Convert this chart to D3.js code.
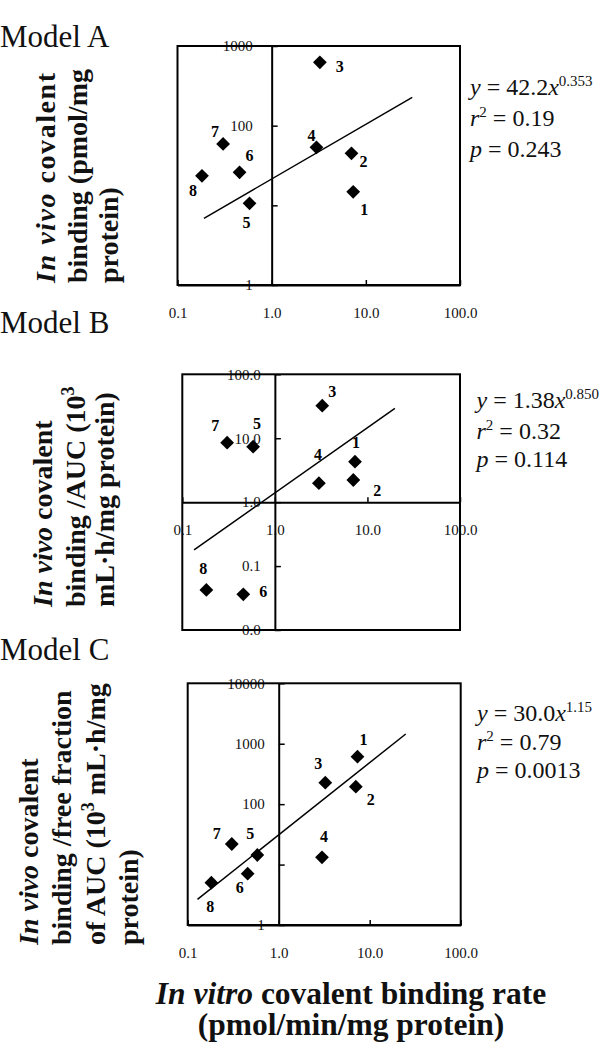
<!DOCTYPE html>
<html><head><meta charset="utf-8">
<script src="https://cdn.jsdelivr.net/npm/d3@7"></script>
<style>html,body{margin:0;padding:0;background:#fff;}</style>
</head><body><div id="chart"></div>
<script>
// ---------- data ----------
const compounds   = ["1","2","3","4","5","6","7","8"];
const inVitroRate = [7.34, 7.04, 3.25, 2.99, 0.582, 0.456, 0.305, 0.182];
const modelA = [14.8, 45.0, 624, 53.5, 10.6, 26.0, 58.9, 23.5];
const modelB = [4.30, 2.22, 32.3, 1.98, 7.38, 0.0362, 8.53, 0.0423];
const modelC = [610, 195, 227, 13.2, 14.4, 7.06, 21.9, 5.01];

const trendAx = [0.191, 31.1], trendAy = [6.87, 227];
const trendBx = [0.134, 19.8], trendBy = [0.179, 29.4];
const trendCx = [0.128, 24.9], trendCy = [2.66, 1449];

const xTickValues = [0.1, 1, 10, 100];
const xTickLabels = ["0.1", "1.0", "10.0", "100.0"];
const yTicksA = [1, 10, 100, 1000],  yTickLabelsA = ["1", "", "100", "1000"];
const yTicksB = [0.01, 0.1, 1, 10, 100], yTickLabelsB = ["0.0", "0.1", "1.0", "10.0", "100.0"];
const yTicksC = [1, 10, 100, 1000, 10000], yTickLabelsC = ["1", "", "100", "1000", "10000"];

const modelNames = ["Model A", "Model B", "Model C"];
const eqCoef = ["42.2", "1.38", "30.0"];
const eqExp  = ["0.353", "0.850", "1.15"];
const eqR2   = ["0.19", "0.32", "0.79"];
const eqP    = ["0.243", "0.114", "0.0013"];

const yTitleA = [[["In vivo", true], [" covalent"]], [["binding (pmol/mg"]], [["protein)"]]];
const yTitleB = [[["In vivo", true], [" covalent"]], [["binding /AUC (10"], ["3", false, true]], [["mL·h/mg protein)"]]];
const yTitleC = [[["In vivo", true], [" covalent"]], [["binding /free fraction"]], [["of AUC (10"], ["3", false, true], [" mL·h/mg"]], [["protein)"]]];
const xTitle  = [[["In vitro", true], [" covalent binding rate"]], [["(pmol/min/mg protein)"]]];

// ---------- layout ----------
const W = 607, H = 1050;
const FONT = "'Liberation Serif','Times New Roman',serif";
const panels = [
  {name: modelNames[0], values: modelA, tx: trendAx, ty: trendAy, yTicks: yTicksA, yLabels: yTickLabelsA,
   yDomain: [1, 1000], left: 177.5, right: 460, top: 46, bottom: 285, ylPad: 19, titleY: 47,
   eqX: 470, eqY: [95, 126, 157], yTitle: yTitleA, yTitleX: [55, 87, 118], yTitleStart: 283,
   yTitleLen: [210, null, null],
   lab: [[11,18],[12,8],[20,4],[-5,-12],[-3,19],[10,-17],[-8,-13],[-9,15]]},
  {name: modelNames[1], values: modelB, tx: trendBx, ty: trendBy, yTicks: yTicksB, yLabels: yTickLabelsB,
   yDomain: [0.01, 100], left: 182.3, right: 460, top: 374.3, bottom: 630, ylPad: 14, titleY: 333,
   eqX: 476.5, eqY: [408, 438.5, 467], yTitle: yTitleB, yTitleX: [52, 85, 114], yTitleStart: 607,
   yTitleLen: [null, null, null],
   lab: [[1,-19],[24,10],[10,-14],[-1,-29],[4,-23],[20,-3],[-12,-17],[-3,-22]]},
  {name: modelNames[2], values: modelC, tx: trendCx, ty: trendCy, yTicks: yTicksC, yLabels: yTickLabelsC,
   yDomain: [1, 10000], left: 187.7, right: 460.7, top: 683.3, bottom: 925, ylPad: 14, titleY: 660,
   eqX: 477, eqY: [721, 749.5, 778], yTitle: yTitleC, yTitleX: [38, 71, 105, 138], yTitleStart: 945,
   yTitleLen: [null, null, null, null],
   lab: [[6,-17],[15,13],[-7,-19],[2,-21],[-7,-22],[-8,14],[-15,-11],[-1,24]]}
];

const svg = d3.select("#chart").append("svg")
  .attr("width", W).attr("height", H)
  .style("font-family", FONT).style("background", "#fff");

function addRich(textSel, segs, supSize, supShift) {
  let pending = 0;
  segs.forEach(s => {
    const t = textSel.append("tspan").text(s[0]);
    if (s[1]) t.style("font-style", "italic");
    if (s[2]) {
      t.attr("font-size", supSize).attr("dy", -supShift);
      pending = supShift;
    } else if (pending) {
      t.attr("dy", pending);
      pending = 0;
    }
  });
}

panels.forEach((p, pi) => {
  const x = d3.scaleLog().domain([0.1, 100]).range([p.left, p.right]);
  const y = d3.scaleLog().domain(p.yDomain).range([p.bottom, p.top]);
  const ax = x(1), ay = y(1);
  const g = svg.append("g");

  // panel title
  g.append("text").attr("x", 0).attr("y", p.titleY).attr("font-size", 31).attr("fill", "#111").text(p.name);

  // y tick labels
  const yl = g.append("g").attr("transform", `translate(${ax},0)`)
    .call(d3.axisLeft(y).tickValues(p.yTicks).tickSize(0).tickPadding(p.ylPad)
      .tickFormat((d, i) => p.yLabels[i]));
  yl.select(".domain").remove();
  yl.selectAll("text").attr("font-family", FONT).attr("font-size", 15).attr("fill", "#111");

  // x tick labels
  const xl = g.append("g").attr("transform", `translate(0,${ay})`)
    .call(d3.axisBottom(x).tickValues(xTickValues).tickSize(0).tickPadding(22.5)
      .tickFormat((d, i) => xTickLabels[i]));
  xl.select(".domain").remove();
  xl.selectAll("text").attr("font-family", FONT).attr("font-size", 15).attr("fill", "#111");

  // frame
  g.append("rect").attr("x", p.left).attr("y", p.top)
    .attr("width", p.right - p.left).attr("height", p.bottom - p.top)
    .attr("fill", "none").attr("stroke", "#000").attr("stroke-width", 2);

  // axes crossing at 1
  const ya = g.append("g").attr("transform", `translate(${ax},0)`)
    .call(d3.axisRight(y).tickValues(p.yTicks).tickSize(6).tickSizeOuter(0).tickFormat(""));
  const xa = g.append("g").attr("transform", `translate(0,${ay})`)
    .call(d3.axisTop(x).tickValues(xTickValues).tickSize(5).tickSizeOuter(0).tickFormat(""));
  [ya, xa].forEach(a => {
    a.select(".domain").attr("stroke", "#000").attr("stroke-width", 2);
    a.selectAll(".tick line").attr("stroke", "#000").attr("stroke-width", 1.5);
  });

  // trend line
  g.append("line")
    .attr("x1", x(p.tx[0])).attr("y1", y(p.ty[0]))
    .attr("x2", x(p.tx[1])).attr("y2", y(p.ty[1]))
    .attr("stroke", "#000").attr("stroke-width", 1.5);

  // points
  const pts = compounds.map((c, i) => ({c, xv: inVitroRate[i], yv: p.values[i], off: p.lab[i]}));
  g.selectAll("path.pt").data(pts).join("path").attr("class", "pt")
    .attr("d", d3.symbol().type(d3.symbolSquare).size(95))
    .attr("transform", d => `translate(${x(d.xv)},${y(d.yv)}) rotate(45)`)
    .attr("fill", "#000");

  g.selectAll("text.pl").data(pts).join("text").attr("class", "pl")
    .attr("x", d => x(d.xv) + d.off[0]).attr("y", d => y(d.yv) + d.off[1])
    .attr("dy", "0.35em").attr("text-anchor", "middle")
    .attr("font-size", 16).attr("font-weight", "bold").attr("fill", "#000")
    .text(d => d.c);

  // equation
  const e1 = g.append("text").attr("x", p.eqX).attr("y", p.eqY[0]).attr("font-size", 24).attr("fill", "#111");
  addRich(e1, [["y", true], [" = " + eqCoef[pi]], ["x", true], [eqExp[pi], false, true]], 15, 9);
  const e2 = g.append("text").attr("x", p.eqX).attr("y", p.eqY[1]).attr("font-size", 24).attr("fill", "#111");
  addRich(e2, [["r", true], ["2", false, true], [" = " + eqR2[pi]]], 15, 9);
  const e3 = g.append("text").attr("x", p.eqX).attr("y", p.eqY[2]).attr("font-size", 24).attr("fill", "#111");
  addRich(e3, [["p", true], [" = " + eqP[pi]]], 15, 9);

  // y title (rotated)
  p.yTitle.forEach((line, li) => {
    const t = g.append("text")
      .attr("transform", `translate(${p.yTitleX[li]},${p.yTitleStart}) rotate(-90)`)
      .attr("font-size", 28).attr("font-weight", "bold").attr("fill", "#111");
    if (p.yTitleLen[li]) t.attr("textLength", p.yTitleLen[li]).attr("lengthAdjust", "spacing");
    addRich(t, line, 18, 11);
  });
});

// x title
const xtY = [1004, 1035];
xTitle.forEach((line, li) => {
  const t = svg.append("text").attr("x", 351).attr("y", xtY[li])
    .attr("text-anchor", "middle").attr("font-size", 31.5).attr("font-weight", "bold").attr("fill", "#111");
  addRich(t, line, 20, 12);
});
</script>
</body></html>
